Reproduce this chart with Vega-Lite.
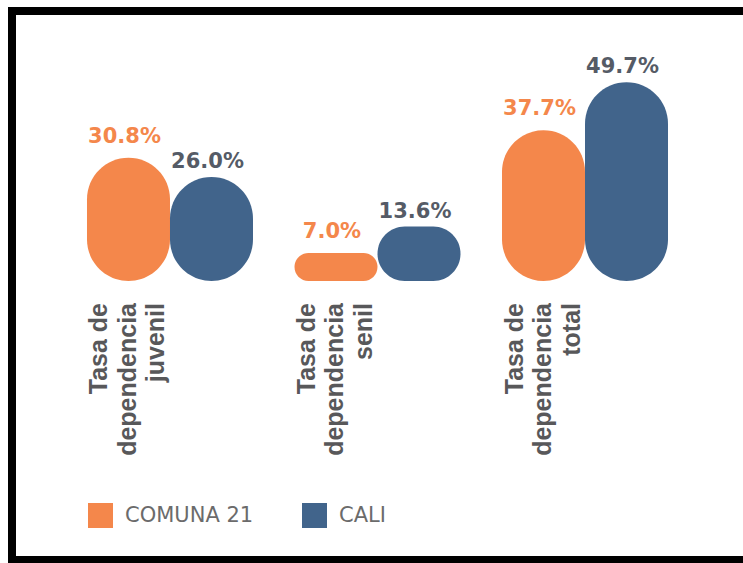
{
  "$schema": "https://vega.github.io/schema/vega-lite/v6.json",
  "width": 731,
  "height": 549,
  "autosize": {"type": "none"},
  "padding": {"left": 12, "top": 11, "right": 0, "bottom": 3},
  "background": "white",
  "config": {
    "view": {"stroke": "#000000", "strokeWidth": 8, "strokeDash": [731, 549, 1280], "strokeCap": "square", "fill": "white"}
  },
  "data": {
    "values": [
      {"grupo": "juvenil", "etiqueta": "Tasa de\ndependencia\njuvenil", "serie": "COMUNA 21", "valor": 30.8},
      {"grupo": "juvenil", "etiqueta": "Tasa de\ndependencia\njuvenil", "serie": "CALI", "valor": 26.0},
      {"grupo": "senil", "etiqueta": "Tasa de\ndependencia\nsenil", "serie": "COMUNA 21", "valor": 7.0},
      {"grupo": "senil", "etiqueta": "Tasa de\ndependencia\nsenil", "serie": "CALI", "valor": 13.6},
      {"grupo": "total", "etiqueta": "Tasa de\ndependencia\ntotal", "serie": "COMUNA 21", "valor": 37.7},
      {"grupo": "total", "etiqueta": "Tasa de\ndependencia\ntotal", "serie": "CALI", "valor": 49.7}
    ]
  },
  "encoding": {
    "x": {"field": "grupo", "type": "nominal", "sort": ["juvenil", "senil", "total"], "scale": {"paddingInner": 0.2, "paddingOuter": 0.3614}, "axis": null},
    "xOffset": {"field": "serie", "type": "nominal", "sort": ["COMUNA 21", "CALI"], "scale": {"paddingInner": 0, "paddingOuter": 0}}
  },
  "layer": [
    {
      "mark": {"type": "bar", "cornerRadius": 41.5},
      "encoding": {
        "y": {"field": "valor", "type": "quantitative", "stack": null, "scale": {"domain": [-69.75, 67.5], "nice": false, "zero": false}, "axis": null},
        "color": {
          "field": "serie", "type": "nominal",
          "scale": {"domain": ["COMUNA 21", "CALI"], "range": ["#F4874B", "#41648B"]},
          "legend": {
            "orient": "none", "legendX": 76, "legendY": 492, "direction": "horizontal", "title": null,
            "symbolType": "square", "symbolSize": 625, "symbolStrokeWidth": 0, "symbolOpacity": 1,
            "labelFont": "DejaVu Sans", "labelFontSize": 21, "labelColor": "#6b6b6b", "labelOffset": 12,
            "columnPadding": 48, "padding": 0
          }
        }
      }
    },
    {
      "transform": [{"filter": "datum.serie == 'COMUNA 21'"}, {"calculate": "format(datum.valor, '.1f') + '%'", "as": "txt"}],
      "mark": {"type": "text", "font": "DejaVu Sans", "fontWeight": "bold", "fontSize": 21, "align": "center", "baseline": "alphabetic", "dx": -4, "dy": -15, "color": "#F4874B"},
      "encoding": {"y": {"field": "valor", "type": "quantitative"}, "text": {"field": "txt"}}
    },
    {
      "transform": [{"filter": "datum.serie == 'CALI'"}, {"calculate": "format(datum.valor, '.1f') + '%'", "as": "txt"}],
      "mark": {"type": "text", "font": "DejaVu Sans", "fontWeight": "bold", "fontSize": 21, "align": "center", "baseline": "alphabetic", "dx": -4, "dy": -9, "color": "#555B66"},
      "encoding": {"y": {"field": "valor", "type": "quantitative"}, "text": {"field": "txt"}}
    },
    {
      "transform": [{"filter": "datum.serie == 'COMUNA 21'"}],
      "mark": {"type": "text", "font": "Liberation Sans", "fontWeight": "bold", "fontSize": 25, "lineHeight": 28.5, "lineBreak": "\n", "angle": 270, "align": "right", "baseline": "middle", "dy": -29, "color": "#58585A"},
      "encoding": {"y": {"datum": -5.5}, "text": {"field": "etiqueta"}}
    }
  ]
}
